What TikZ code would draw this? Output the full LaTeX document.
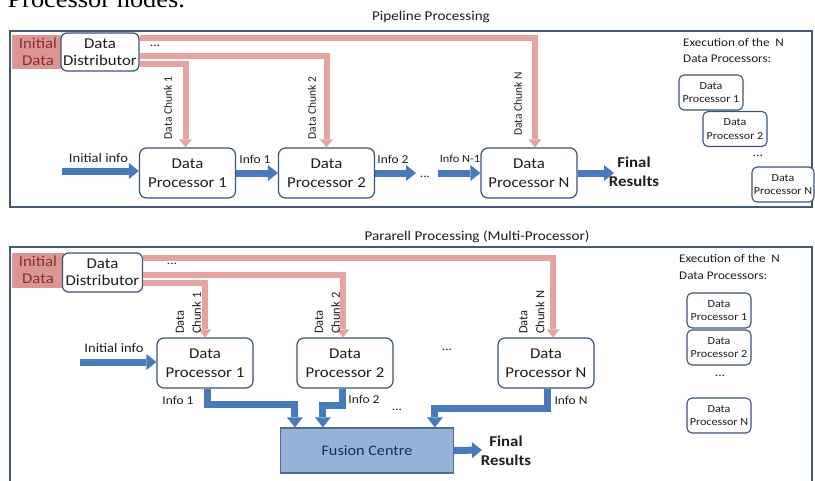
\documentclass[tikz,border=0pt]{standalone}
\usepackage{fontspec}
\setmainfont{Carlito}[FakeStretch=1.12]
\newfontfamily\rotf{Carlito}
\newfontfamily\docf{Liberation Serif}[FakeStretch=1.1]
\usetikzlibrary{arrows.meta}
\definecolor{boxc}{RGB}{62,84,115}
\definecolor{framec}{RGB}{70,88,115}
\definecolor{pinkc}{RGB}{229,164,162}
\definecolor{initfill}{RGB}{218,150,148}
\definecolor{initred}{RGB}{140,45,42}
\definecolor{bluec}{RGB}{72,121,186}
\definecolor{fusf}{RGB}{149,179,215}
\definecolor{fusd}{RGB}{79,108,150}
\definecolor{fust}{RGB}{25,45,80}
\definecolor{txt}{RGB}{30,30,30}
\tikzset{
  proc/.style={draw=boxc, line width=1.2pt, rounded corners=7pt, fill=white,
    minimum width=96pt, minimum height=50pt, inner sep=0pt, align=center,
    font=\fontsize{15}{19}\selectfont, text=txt},
  sproc/.style={draw=boxc, line width=1.1pt, rounded corners=5pt, fill=white,
    minimum width=64pt, minimum height=35pt, inner sep=0pt, align=center,
    font=\fontsize{10.8}{13.5}\selectfont, text=txt},
  distbox/.style={proc, minimum width=78pt, minimum height=38pt, rounded corners=6pt,
    font=\fontsize{15}{17}\selectfont},
  initbox/.style={fill=initfill, minimum width=52pt, minimum height=34pt, inner sep=0pt,
    align=center, text=initred, font=\fontsize{15}{17}\selectfont},
  pinkarr/.style={draw=pinkc, line width=6pt, -{Triangle[length=8pt,width=13pt,line width=0pt]}},
  bluearr/.style={draw=bluec, line width=7pt, -{Triangle[length=10pt,width=16pt,line width=0pt]}},
  fusebox/.style={draw=fusd, line width=1.3pt, fill=fusf, minimum width=173pt,
    minimum height=45pt, inner sep=0pt, text=fust, font=\fontsize{14.5}{16}\selectfont},
  lbl/.style={inner sep=0pt, text=txt, font=\fontsize{13}{15}\selectfont},
  slbl/.style={inner sep=0pt, text=txt, font=\fontsize{12}{14}\selectfont},
  rot/.style={inner sep=0pt, text=txt, rotate=90, font=\rotf\fontsize{11.5}{13}\selectfont},
  rottwo/.style={inner sep=0pt, text=txt, rotate=90, align=left, anchor=west,
    font=\rotf\fontsize{12.5}{17}\selectfont},
  ttl/.style={inner sep=0pt, text=txt, font=\fontsize{13.5}{15}\selectfont},
  finl/.style={inner sep=0pt, text=txt, align=center, font=\bfseries\fontsize{15}{19}\selectfont},
  exe/.style={inner sep=0pt, text=txt, anchor=base west, font=\fontsize{11.7}{14}\selectfont},
  framebox/.style={draw=framec, line width=1.2pt},
}
\begin{document}
\begin{tikzpicture}[x=1pt,y=-1pt]
\clip (0,0) rectangle (815,480);
\fill[white] (0,0) rectangle (815,480);
% clipped document text at top
\node[anchor=base west, inner sep=0pt, font=\docf\fontsize{24}{26}\selectfont] (doc) at (-8,7) {r Processor nodes.};

% ================= Pipeline panel =================
\node[ttl] (t1) at (431,17) {Pipeline Processing};
\draw[framebox] (10,31) rectangle (812,207);
\node[initbox] (id1) at (38,52) {Initial\\Data};
\node[distbox] (d1) at (100,52) {Data\\Distributor};
\node[proc] (p1) at (187.5,173) {Data\\Processor 1};
\node[proc] (p2) at (326.5,173) {Data\\Processor 2};
\node[proc] (pN) at (529,173) {Data\\Processor N};

\draw[pinkarr] ([yshift=14.5pt]d1.east) -| ([xshift=6pt]pN.north);
\draw[pinkarr] ([yshift=-4pt]d1.east) -| (p2.north);
\draw[pinkarr] ([yshift=-12pt]d1.east) -| ([xshift=-2pt]p1.north);
\node[slbl] (dots1) at (155,46) {...};
\node[rot] (c1) at (168,108) {Data Chunk 1};
\node[rot] (c2) at (312,108) {Data Chunk 2};
\node[rot] (cN) at (518,104) {Data Chunk N};

\coordinate (ii1) at (62,171);
\draw[bluearr] (ii1) -- (ii1 -| p1.west);
\node[lbl] (lii1) at (98.5,158) {Initial info};
\draw[bluearr] (p1.east) -- (p2.west);
\node[slbl] (li1) at (255,159) {Info 1};
\coordinate (e2) at (416,173);
\draw[bluearr] (p2.east) -- (e2);
\node[slbl] (li2) at (393,159) {Info 2};
\node[slbl] (dots2) at (425,177) {...};
\coordinate (sN1) at (438,173);
\draw[bluearr] (sN1) -- (pN.west);
\node[inner sep=0pt, text=txt, font=\fontsize{11}{12}\selectfont] (liN1) at (460,159) {Info N-1};
\coordinate (f1) at (614,173);
\draw[bluearr] (pN.east) -- (f1);
\node[finl] (fr1) at (634,172) {Final\\Results};

\node[exe] (ex1) at (683,46.5) {Execution of the\ \ N};
\node[exe] (ex2) at (683,62) {Data Processors:};
\node[sproc] (s1) at (711,92.5) {Data\\Processor 1};
\node[sproc] (s2) at (735,129) {Data\\Processor 2};
\node[slbl] (sd) at (758,156) {...};
\node[sproc, minimum width=62pt] (sN) at (783,184.5) {Data\\Processor N};

% ================= Parallel panel =================
\node[ttl] (t2) at (477,237) {Pararell Processing (Multi-Processor)};
\draw[framebox] (10,247) rectangle (812,495);
\node[initbox, minimum height=35pt] (id2) at (38,270) {Initial\\Data};
\node[distbox, minimum width=80pt, minimum height=39pt] (d2) at (102.5,272.5) {Data\\Distributor};
\node[proc] (bp1) at (205,363) {Data\\Processor 1};
\node[proc] (bp2) at (345,363) {Data\\Processor 2};
\node[proc] (bpN) at (546,363) {Data\\Processor N};

\draw[pinkarr] ([yshift=14.5pt]d2.east) -| ([xshift=7pt]bpN.north);
\draw[pinkarr] ([yshift=-2.5pt]d2.east) -| ([xshift=-2pt]bp2.north);
\draw[pinkarr] ([yshift=-10pt]d2.east) -| (bp1.north);
\node[slbl] (dots3) at (172,264) {...};
\node[rottwo] (bc1) at (188.5,334) {Data\\Chunk 1};
\node[rottwo] (bc2) at (327.5,334) {Data\\Chunk 2};
\node[rottwo] (bcN) at (532,334) {Data\\Chunk N};

\coordinate (ii2) at (80,362);
\draw[bluearr] (ii2) -- (ii2 -| bp1.west);
\node[lbl] (lii2) at (114,348) {Initial info};
\node[slbl] (dots4) at (447,350) {...};

\node[fusebox] (fus) at (367,450.5) {Fusion Centre};
\draw[bluearr] ([xshift=2pt]bp1.south) -- ++(0,16) -| ([xshift=15pt]fus.north west);
\draw[bluearr] ([xshift=-3pt]bp2.south) -- ++(0,17) -| ([xshift=43pt]fus.north west);
\draw[bluearr] ([xshift=1pt]bpN.south) -- ++(0,20) -| ([xshift=155pt]fus.north west);
\node[slbl] (bi1) at (178,400) {Info 1};
\node[slbl] (bi2) at (364,399) {Info 2};
\node[slbl] (biN) at (571,400) {Info N};
\node[slbl] (dots5) at (397,410) {...};
\coordinate (f2) at (482,450);
\draw[bluearr] (fus.east) -- (f2);
\node[finl] (fr2) at (506,451) {Final\\Results};

\node[exe] (ex3) at (679,262) {Execution of the\ \ N};
\node[exe] (ex4) at (679,279) {Data Processors:};
\node[sproc] (bs1) at (719,310.5) {Data\\Processor 1};
\node[sproc] (bs2) at (719,347.5) {Data\\Processor 2};
\node[slbl] (bsd) at (720,376) {...};
\node[sproc] (bsN) at (719,415.5) {Data\\Processor N};
\end{tikzpicture}
\end{document}
